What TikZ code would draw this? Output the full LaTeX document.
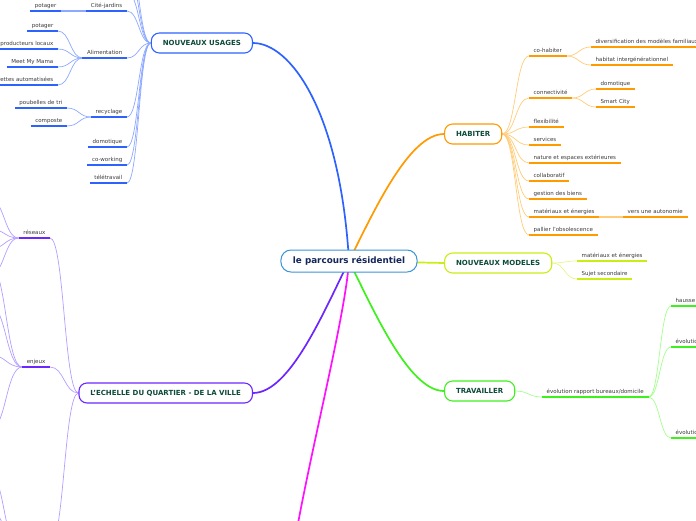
\documentclass[tikz,border=0pt]{standalone}
\usepackage{fontspec}
\setmainfont{DejaVu Sans}
\usetikzlibrary{calc,backgrounds}
\definecolor{cBlue}{HTML}{2D62FF}
\definecolor{cBlueL}{HTML}{8DA8FF}
\definecolor{cOr}{HTML}{FF9A00}
\definecolor{cOrL}{HTML}{FFCC7A}
\definecolor{cYg}{HTML}{C9EE14}
\definecolor{cYgL}{HTML}{E2F78E}
\definecolor{cGr}{HTML}{3EF01C}
\definecolor{cGrL}{HTML}{A2FF8E}
\definecolor{cPu}{HTML}{6C27FF}
\definecolor{cPuL}{HTML}{B49EFF}
\definecolor{cMa}{HTML}{FF10FF}
\definecolor{cCen}{HTML}{3C95D6}
\definecolor{cCenT}{HTML}{15275A}
\definecolor{cTopT}{HTML}{0D4A3A}
\definecolor{cSubT}{HTML}{3A3A3A}
\tikzset{
 mmcentral/.style={draw=cCen, line width=1pt, rounded corners=10pt, fill=white,
   font=\fontsize{8.8}{10}\selectfont\bfseries, text=cCenT, minimum height=22pt, inner xsep=12pt, inner ysep=0pt},
 mmtopic/.style={draw=#1, line width=1.1pt, rounded corners=8pt, fill=white,
   font=\fontsize{7}{8}\selectfont\bfseries, text=cTopT, minimum height=20pt, inner xsep=11.5pt, inner ysep=0pt},
 mmsub/.style={font=\fontsize{5.5}{6}\selectfont, text=cSubT, inner xsep=4.5pt, inner ysep=2.3pt,
   text height=4.2pt, text depth=1.2pt},
 mmul/.style={draw=#1, line width=1.8pt},
 mmmain/.style={draw=#1, line width=1.7pt},
 mmlinkst/.style={draw=#1, line width=0.7pt},
}
\newcommand{\mmlink}[3]{\draw[mmlinkst=#1] let \p1=(#2), \p2=(#3) in (\p1) .. controls ({0.5*\x1+0.5*\x2},\y1) and ({0.5*\x1+0.5*\x2},\y2) .. (\p2);}
\begin{document}
\begin{tikzpicture}[x=1pt,y=-1pt]
\useasboundingbox (0,0) rectangle (696,520);
\clip (0,0) rectangle (696,520);
% central and topics
\node[mmcentral] (cen) at (349,261) {le parcours résidentiel};
\node[mmtopic=cBlue, anchor=east] (nu) at (253,43) {NOUVEAUX USAGES};
\node[mmtopic=cOr, anchor=west] (hab) at (444,134) {HABITER};
\node[mmtopic=cYg, anchor=west] (nm) at (444,263) {NOUVEAUX MODELES};
\node[mmtopic=cGr, anchor=west] (tr) at (444,391) {TRAVAILLER};
\node[mmtopic=cPu, anchor=east] (ech) at (253,393) {L'ECHELLE DU QUARTIER - DE LA VILLE};
% NOUVEAUX USAGES subtopics
\node[mmsub, anchor=south east] (cj) at (127,11) {Cité-jardins};
\node[mmsub, anchor=south east] (al) at (127,58) {Alimentation};
\node[mmsub, anchor=south east] (rec) at (127,117) {recyclage};
\node[mmsub, anchor=south east] (dom) at (127,147) {domotique};
\node[mmsub, anchor=south east] (cow) at (127,165) {co-working};
\node[mmsub, anchor=south east] (tele) at (127,183) {télétravail};
\node[mmsub, anchor=south east] (pot1) at (61,11) {potager};
\node[mmsub, anchor=south east] (pot2) at (58,31) {potager};
\node[mmsub, anchor=south east] (prod) at (58,49) {producteurs locaux};
\node[mmsub, anchor=south east] (mmm) at (58,67) {Meet My Mama};
\node[mmsub, anchor=south east] (sup) at (58,85) {rettes automatisées};
\node[mmsub, anchor=south east] (pb) at (67,108) {poubelles de tri};
\node[mmsub, anchor=south east] (comp) at (67,126) {composte};
\coordinate (nuT1) at (127,-8);
\coordinate (nuT2) at (127,-26);
\coordinate (nuT3) at (127,-44);
% HABITER subtopics
\node[mmsub, anchor=south west] (coh) at (529,56) {co-habiter};
\node[mmsub, anchor=south west] (con) at (529,98) {connectivité};
\node[mmsub, anchor=south west] (flex) at (529,127) {flexibilité};
\node[mmsub, anchor=south west] (serv) at (529,145) {services};
\node[mmsub, anchor=south west] (nat) at (529,163) {nature et espaces extérieures};
\node[mmsub, anchor=south west] (col) at (529,181) {collaboratif};
\node[mmsub, anchor=south west] (gest) at (529,199) {gestion des biens};
\node[mmsub, anchor=south west] (mat) at (529,217) {matériaux et énergies};
\node[mmsub, anchor=south west] (pal) at (529,235) {pallier l'obsolescence};
\node[mmsub, anchor=south west] (div) at (591,47) {diversification des modèles familiaux};
\node[mmsub, anchor=south west] (hig) at (591,65) {habitat intergénérationnel};
\node[mmsub, anchor=south west] (dom2) at (596,89) {domotique};
\node[mmsub, anchor=south west] (sc) at (596,107) {Smart City};
\node[mmsub, anchor=south west] (auto) at (623,217) {vers une autonomie};
% NOUVEAUX MODELES subtopics
\node[mmsub, anchor=south west] (nm1) at (577,261) {matériaux et énergies};
\node[mmsub, anchor=south west] (nm2) at (577,279) {Sujet secondaire};
% TRAVAILLER subtopics
\node[mmsub, anchor=south west] (evo) at (542,397) {évolution rapport bureaux/domicile};
\node[mmsub, anchor=south west] (h1) at (671,306) {hausse};
\node[mmsub, anchor=south west] (e1) at (671,347) {évolution};
\node[mmsub, anchor=south west] (e2) at (671,438) {évolution};
% ECHELLE subtopics
\node[mmsub, anchor=south east] (res) at (50,238) {réseaux};
\node[mmsub, anchor=south east] (enj) at (50,367) {enjeux};
\coordinate (ech3) at (50,545);
\coordinate (ech3b) at (18,545);
\foreach \nd/\yy in {rT1/199,rT2/229,rT3/249,rT4/275,eT1/265,eT2/305,eT3/355,eT4/430,bT1/474,bT2/510}
  {\coordinate (\nd) at (-10,\yy);}
\coordinate (magEnd) at (290,570);
% underlines
\foreach \nd in {cj,al,rec,dom,cow,tele,pot1,pot2,prod,mmm,sup,pb,comp}
  {\draw[mmul=cBlue] (\nd.south west) -- (\nd.south east);}
\foreach \nd in {coh,con,flex,serv,nat,col,gest,mat,pal,div,hig,dom2,sc,auto}
  {\draw[mmul=cOr] (\nd.south west) -- (\nd.south east);}
\foreach \nd in {nm1,nm2}
  {\draw[mmul=cYg] (\nd.south west) -- (\nd.south east);}
\foreach \nd in {evo,h1,e1,e2}
  {\draw[mmul=cGr] (\nd.south west) -- (\nd.south east);}
\foreach \nd in {res,enj}
  {\draw[mmul=cPu] (\nd.south west) -- (\nd.south east);}
% connectors
\begin{pgfonlayer}{background}
\clip (0,0) rectangle (696,520);
\draw[mmmain=cBlue] (cen.center) .. controls +(-9,-151) and +(37,0) .. (nu.east);
\draw[mmmain=cOr] (cen.center) .. controls +(25,-50) and +(-35,0) .. (hab.west);
\draw[mmmain=cYg] (cen.center) -- (nm.west);
\draw[mmmain=cGr] (cen.center) .. controls +(25,50) and +(-35,0) .. (tr.west);
\draw[mmmain=cPu] (cen.center) .. controls +(-25,50) and +(37,0) .. (ech.east);
\draw[mmmain=cMa] (cen.center) .. controls +(-4,60) and +(15,-100) .. (magEnd);
% blue
\foreach \nd in {cj,al,rec,dom,cow,tele} {\mmlink{cBlueL}{\nd.south east}{nu.west}}
\foreach \nd in {nuT1,nuT2,nuT3} {\mmlink{cBlueL}{\nd}{nu.west}}
\foreach \nd in {pot2,prod,mmm,sup} {\mmlink{cBlueL}{\nd.south east}{al.south west}}
\foreach \nd in {pb,comp} {\mmlink{cBlueL}{\nd.south east}{rec.south west}}
\draw[mmul=cBlueL] (cj.south west) -- (pot1.south east);
% orange
\foreach \nd in {coh,con,flex,serv,nat,col,gest,mat,pal} {\mmlink{cOrL}{\nd.south west}{hab.east}}
\foreach \nd in {div,hig} {\mmlink{cOrL}{\nd.south west}{coh.south east}}
\foreach \nd in {dom2,sc} {\mmlink{cOrL}{\nd.south west}{con.south east}}
\draw[mmul=cOrL] (mat.south east) -- (auto.south west);
% yellow-green
\foreach \nd in {nm1,nm2} {\mmlink{cYgL}{\nd.south west}{nm.east}}
% green
\mmlink{cGrL}{evo.south west}{tr.east}
\foreach \nd in {h1,e1,e2} {\mmlink{cGrL}{\nd.south west}{evo.south east}}
% purple
\foreach \nd in {res,enj} {\mmlink{cPuL}{\nd.south east}{ech.west}}
\mmlink{cPuL}{ech3}{ech.west}
\foreach \nd in {rT1,rT2,rT3,rT4} {\mmlink{cPuL}{\nd}{res.south west}}
\foreach \nd in {eT1,eT2,eT3,eT4} {\mmlink{cPuL}{\nd}{enj.south west}}
\foreach \nd in {bT1,bT2} {\mmlink{cPuL}{\nd}{ech3b}}
\end{pgfonlayer}
\end{tikzpicture}
\end{document}
